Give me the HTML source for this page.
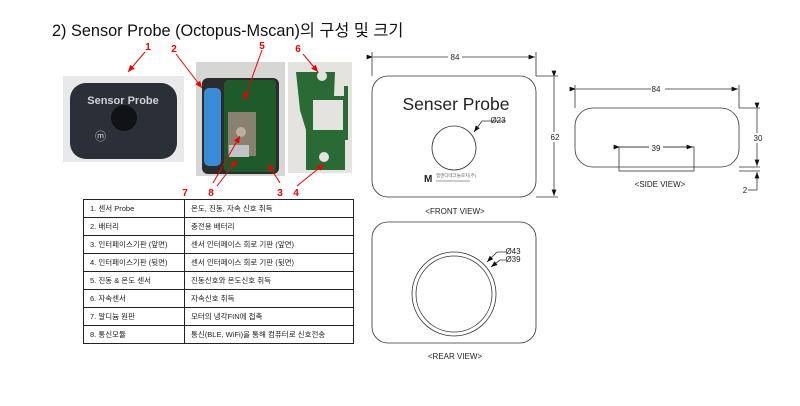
<!DOCTYPE html>
<html><head><meta charset="utf-8"><style>
body{margin:0;background:#fff;width:800px;height:406px;overflow:hidden;font-family:"Liberation Sans","Noto Sans CJK KR",sans-serif}
.t{position:absolute;left:52px;top:17px;font-size:16.3px;color:#111;white-space:nowrap}
table{position:absolute;left:83px;top:199px;border-collapse:collapse;font-size:7.5px;color:#222}
td{border:1px solid #222;height:17px;padding:0 0 0 6px;line-height:17px}
</style></head><body>
<div class="t">2) Sensor Probe (Octopus-Mscan)의 구성 및 크기</div>
<svg width="800" height="406" style="position:absolute;left:0;top:0" font-family="Liberation Sans, sans-serif">
<defs><marker id="a" markerWidth="8" markerHeight="6" refX="8" refY="3" orient="auto"><path d="M0,0L8,3L0,6z" fill="#111"/></marker>
<marker id="r" markerWidth="7" markerHeight="6" refX="7" refY="3" orient="auto"><path d="M0,0L7,3L0,6z" fill="#e00"/></marker></defs>
<rect x="63" y="76" width="121" height="86" fill="#e9e9ea"/>
<rect x="70" y="83" width="107" height="76" rx="16" fill="#2b3038"/>
<text x="123" y="104" fill="#cfd3d8" font-size="11" font-weight="bold" text-anchor="middle">Sensor Probe</text>
<circle cx="124" cy="118" r="13" fill="#101215"/>
<text x="95" y="140" fill="#cfd3d8" font-size="11">ⓜ</text>
<rect x="196" y="62" width="89" height="114" fill="#d6d6d4"/>
<rect x="202" y="78" width="77" height="96" rx="6" fill="#2a2c2e"/>
<rect x="224" y="80" width="52" height="92" rx="4" fill="#1f5a2a"/>
<rect x="204" y="88" width="17" height="78" rx="5" fill="#3a8ad6"/>
<rect x="228" y="112" width="28" height="44" fill="#8a8070"/>
<circle cx="241" cy="132" r="5" fill="#b8b0a0"/>
<rect x="229" y="145" width="20" height="12" fill="#bfc3c6"/>
<rect x="288" y="62" width="64" height="111" fill="#e4e3df"/>
<path d="M296,72H335L334,96H344V86H348V140H345V170H306V130L300,110Z" fill="#2a6b35"/>
<circle cx="322" cy="76" r="5" fill="#e4e3df"/><circle cx="324" cy="157" r="5" fill="#e4e3df"/>
<path d="M313,100h30v30h-30z" fill="#e4e3df"/>
<g stroke="#e00" stroke-width="1" fill="none">
<line x1="145" y1="52" x2="128" y2="72" marker-end="url(#r)"/>
<line x1="176" y1="54" x2="202" y2="88" marker-end="url(#r)"/>
<line x1="262" y1="50" x2="244" y2="100" marker-end="url(#r)"/>
<line x1="303" y1="54" x2="318" y2="72" marker-end="url(#r)"/>
<line x1="213" y1="183" x2="240" y2="136" marker-end="url(#r)"/>
<line x1="217" y1="186" x2="237" y2="160" marker-end="url(#r)"/>
<line x1="280" y1="183" x2="268" y2="164" marker-end="url(#r)"/>
<line x1="297" y1="186" x2="324" y2="164" marker-end="url(#r)"/>
</g>
<g fill="#e00" font-size="10" font-weight="bold" text-anchor="middle">
<text x="148" y="50">1</text><text x="174" y="52">2</text><text x="262" y="49">5</text><text x="298" y="52">6</text>
<text x="185" y="196">7</text><text x="211" y="196">8</text><text x="280" y="196">3</text><text x="296" y="196">4</text></g>
<g stroke="#333" stroke-width="0.8" fill="none">
<rect x="372" y="76" width="164" height="121" rx="16"/>
<rect x="372" y="222" width="164" height="121" rx="16"/>
<rect x="575" y="108" width="164" height="59" rx="18"/>
<circle cx="454" cy="148" r="22"/>
<circle cx="454" cy="294" r="42"/><circle cx="454" cy="294" r="38"/>
<line x1="372" y1="52" x2="372" y2="76"/><line x1="536" y1="52" x2="536" y2="76"/>
<line x1="373" y1="57" x2="535" y2="57" marker-end="url(#a)" marker-start="url(#a)"/>
<line x1="536" y1="76" x2="558" y2="76"/><line x1="536" y1="197" x2="558" y2="197"/>
<line x1="554" y1="77" x2="554" y2="196" marker-end="url(#a)" marker-start="url(#a)"/>
<line x1="575" y1="85" x2="575" y2="108"/><line x1="739" y1="85" x2="739" y2="108"/>
<line x1="576" y1="89" x2="738" y2="89" marker-end="url(#a)" marker-start="url(#a)"/>
<line x1="739" y1="108" x2="760" y2="108"/><line x1="739" y1="167" x2="760" y2="167"/><line x1="739" y1="171" x2="760" y2="171"/>
<line x1="757" y1="109" x2="757" y2="166" marker-end="url(#a)" marker-start="url(#a)"/>
<line x1="757" y1="190" x2="757" y2="172" marker-end="url(#a)"/><line x1="748" y1="190" x2="757" y2="190"/>
<rect x="619" y="147" width="75" height="24"/>
<line x1="620" y1="147" x2="693" y2="147" marker-end="url(#a)" marker-start="url(#a)"/>
<polyline points="506,121 482,121 474,132" marker-end="url(#a)"/>
<polyline points="506,252 497,252 487,262" marker-end="url(#a)"/>
<polyline points="506,260 500,260 491,267" marker-end="url(#a)"/>
</g>
<g font-size="8" fill="#222" text-anchor="middle">
<rect x="448" y="52" width="14" height="9" fill="#fff"/><text x="455" y="60">84</text>
<rect x="651" y="84" width="14" height="9" fill="#fff"/><text x="656" y="92">84</text>
<rect x="549" y="132" width="12" height="10" fill="#fff"/><text x="555" y="140">62</text>
<rect x="752" y="133" width="12" height="10" fill="#fff"/><text x="758" y="141">30</text>
<rect x="649" y="142" width="14" height="9" fill="#fff"/><text x="656" y="151">39</text>
<text x="745" y="193">2</text>
<text x="498" y="123">Ø23</text><text x="513" y="254">Ø43</text><text x="513" y="262">Ø39</text>
<text x="455" y="214">&lt;FRONT VIEW&gt;</text><text x="660" y="187">&lt;SIDE VIEW&gt;</text><text x="455" y="359">&lt;REAR VIEW&gt;</text>
<text x="456" y="110" font-size="17.5">Senser Probe</text>
</g>
<text x="424" y="182" font-size="10" font-weight="bold" fill="#222">M</text>
<text x="436" y="177" font-size="4.5" fill="#666" font-family="Noto Sans CJK KR, sans-serif">엠앤디테크놀로지(주)</text>
<line x1="436" y1="181" x2="470" y2="181" stroke="#999" stroke-width="1"/>
</svg>
<table>
<tr><td style="width:94px">1. 센서 Probe</td><td style="width:162px">온도, 진동, 자속 신호 취득</td></tr>
<tr><td>2. 배터리</td><td>충전용 배터리</td></tr>
<tr><td>3. 인터페이스기판 (앞면)</td><td>센서 인터페이스 회로 기판 (앞면)</td></tr>
<tr><td>4. 인터페이스기판 (뒷면)</td><td>센서 인터페이스 회로 기판 (뒷면)</td></tr>
<tr><td>5. 진동 &amp; 온도 센서</td><td>진동신호와 온도신호 취득</td></tr>
<tr><td>6. 자속센서</td><td>자속신호 취득</td></tr>
<tr><td>7. 알디늄 원판</td><td>모터의 냉각FIN에 접촉</td></tr>
<tr><td>8. 통신모듈</td><td>통신(BLE, WiFi)을 통해 컴퓨터로 신호전송</td></tr>
</table>
</body></html>
